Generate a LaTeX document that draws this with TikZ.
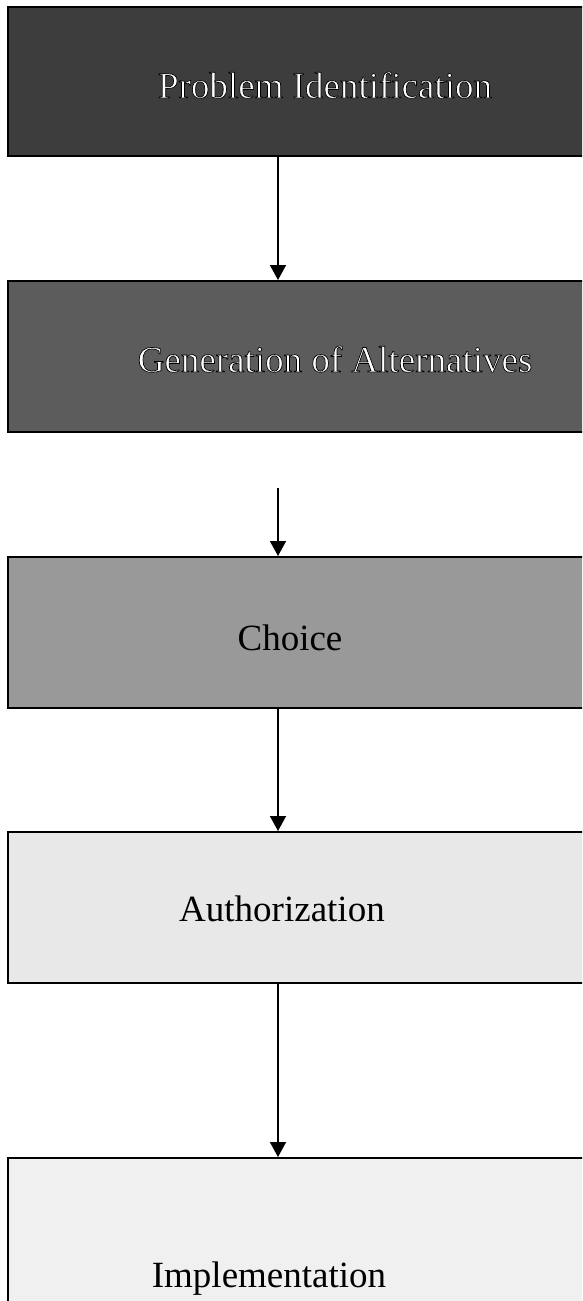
\documentclass[tikz,border=0pt]{standalone}
\usepackage{fontspec}
\setmainfont{Liberation Serif}
\usetikzlibrary{arrows.meta}

% white lettering with a thin black outline (fill + stroke text render mode)
\newcommand{\outlined}[1]{{\color{white}\special{pdf:literal direct 0 G 0.7 w 2 Tr}#1\special{pdf:literal direct 0 Tr}}}

\tikzset{
  stage/.style={draw=black, line width=1.6pt, rectangle, inner sep=0pt, anchor=north west},
  stagetext/.style={font=\fontsize{37}{40}\selectfont, anchor=base, inner sep=0pt},
  flow/.style={draw=black, line width=1.6pt, -{Triangle[width=16pt,length=15pt]}}
}

\begin{document}
\begin{tikzpicture}[x=1pt,y=-1pt]
  \useasboundingbox (0,0) rectangle (582,1301);
  \clip (0,0) rectangle (582,1301);

  % stage boxes, running past the right edge of the page
  \node[stage, fill=black!76, minimum width=640pt, minimum height=149pt] (b1) at (7,6) {};
  \node[stage, fill=black!64, minimum width=640pt, minimum height=151pt] (b2) at (7,280) {};
  \node[stage, fill=black!40, minimum width=640pt, minimum height=151pt] (b3) at (7,556) {};
  \node[stage, fill=black!9,  minimum width=640pt, minimum height=151pt] (b4) at (7,831) {};
  \node[stage, fill=black!6,  minimum width=640pt, minimum height=170pt] (b5) at (7,1157) {};

  % stage labels
  \node[stagetext] (t1) at (325,98)  {\outlined{Problem Identification}};
  \node[stagetext] (t2) at (335,372) {\outlined{Generation of Alternatives}};
  \node[stagetext] (t3) at (290,650) {Choice};
  \node[stagetext] (t4) at (282,921) {Authorization};
  \node[stagetext] (t5) at (269,1287) {Implementation};

  % connectors
  \draw[flow] (b1.south west -| 278,0) -- (b2.north west -| 278,0);
  \draw[flow, shorten <=55pt] (b2.south west -| 278,0) -- (b3.north west -| 278,0);
  \draw[flow] (b3.south west -| 278,0) -- (b4.north west -| 278,0);
  \draw[flow] (b4.south west -| 278,0) -- (b5.north west -| 278,0);
\end{tikzpicture}
\end{document}
